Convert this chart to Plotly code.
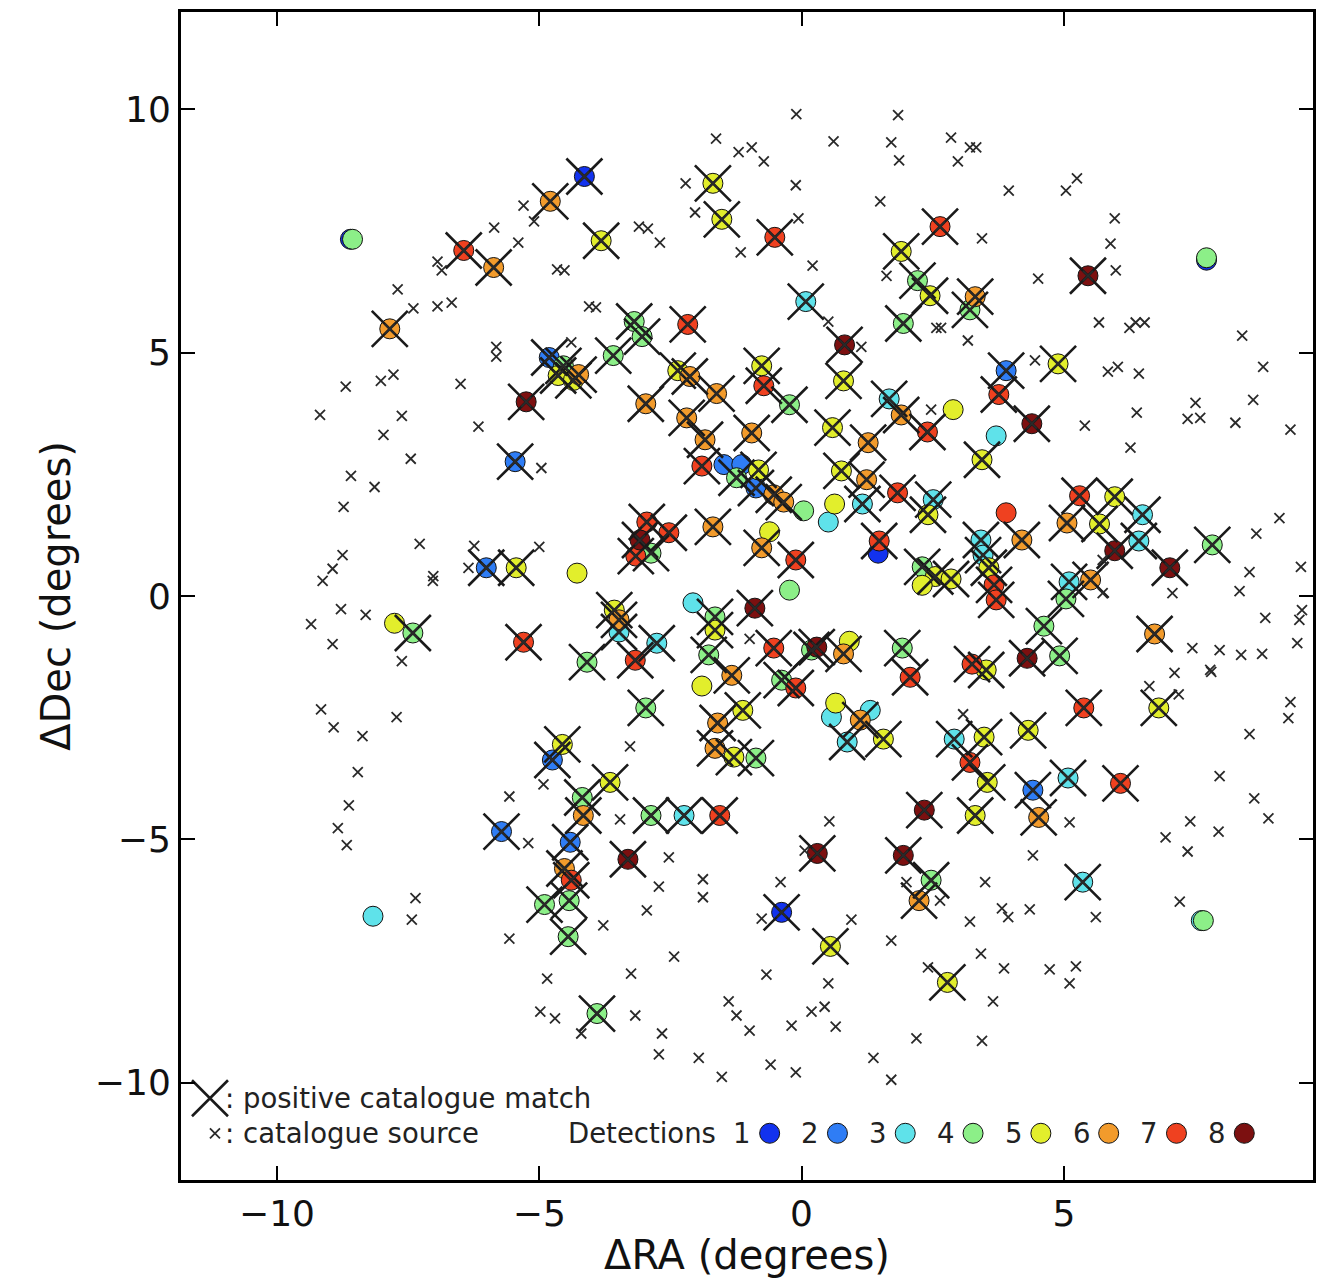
import plotly.graph_objects as go

# ---------------- data ----------------
# detections: x (dRA), y (dDec), number of detections, positive catalogue match flag
det_x = [-8.60, 7.72, 7.62,
         -8.56, -4.14, -4.79, -6.44, -5.87, -7.85, -1.69, -3.82, -1.52, -0.51, 2.64, 1.90, 2.21, 2.45, 3.31, 3.21,
         1.94, 5.46, 7.72, 0.08, 0.82, -2.17, -3.19, -3.04, -3.59, -4.81, -4.54, -4.64, -4.25, -4.35, -5.25,
         -2.97, -2.36, -2.13, -1.62, -0.76, -0.72, 0.80, -0.23, -2.19, -1.84, -0.95, 0.59, 1.27, 1.67, 1.90,
         2.40, 2.89, 3.90, 3.76, 4.89, 4.39, 3.71, 3.44, -5.46, -1.90, -1.48, -1.14, -1.24, -0.82, -0.87, -0.53,
         -0.34, 0.04, 0.63, 0.51, 1.16, 0.76, 1.24, 1.83, 2.51, 2.41, 1.48, 1.46, 3.90, 4.20, 3.42, 3.46, 3.57,
         3.67, 3.71, 5.30, 5.97, 5.06, 5.68, 6.50, 6.43, 5.97, 7.02, 7.83, 5.10, 5.51, 5.04, 4.62, 4.30, 4.92,
         6.73, 3.25, 3.52, 2.30, 2.55, 2.85, 2.30, -6.01, -5.44, -7.76, -7.41, -5.30, -4.28, -2.95, -3.08, -2.53,
         -3.16, -2.87, -1.69, -0.61, -0.76, -0.11, -0.23, -2.07, -1.65, -1.65, -0.89, -3.57, -3.48, -3.48, -2.76,
         -4.09, -3.17, -1.77, -1.33, -1.90, -0.53, 0.19, 0.29, 0.80, 0.91, -0.38, -0.11, 1.92, 2.07, -2.97, -1.12,
         -1.60, -1.65, -1.29, -0.87, 0.65, 0.57, 1.12, 1.31, 0.87, 1.56, 2.91, 3.48, 4.32, 5.38, 6.81, 3.21, 3.54,
         3.31, 4.41, 5.08, 6.08, 4.52, 5.36, 7.66, -4.56, -4.75, -5.72, -3.65, -4.18, -4.16, -4.41, -2.87, -2.24,
         -1.56, -3.31, -4.52, -4.39, -4.43, -4.90, -4.45, -3.90, -8.17, 0.30, 1.94, 2.34, 2.47, 2.24, -0.38, 0.55,
         2.78]
det_y = [7.33, 6.90, -6.67,
         7.33, 8.62, 8.11, 7.10, 6.75, 5.49, 8.48, 7.30, 7.74, 7.37, 7.59, 7.08, 6.48, 6.17, 6.15, 5.88,
         5.60, 6.58, 6.95, 6.05, 5.16, 5.58, 5.64, 5.33, 4.94, 4.90, 4.73, 4.53, 4.55, 4.43, 3.99,
         3.95, 4.63, 4.51, 4.16, 4.73, 4.32, 4.42, 3.93, 3.66, 3.21, 3.35, 3.46, 3.15, 4.05, 3.72,
         3.37, 3.83, 4.63, 4.14, 4.77, 3.54, 3.29, 2.80, 2.76, 2.67, 2.70, 2.70, 2.43, 2.59, 2.22, 2.08,
         1.93, 1.75, 1.89, 1.52, 1.89, 2.57, 2.39, 2.12, 1.98, 1.67, 1.13, 0.88, 1.71, 1.15, 1.15, 0.84, 0.58,
         0.23, -0.08, 2.06, 2.04, 1.50, 1.48, 1.67, 1.13, 0.93, 0.58, 1.05, 0.29, 0.33, -0.06, -0.62, -1.28, -1.23,
         -0.78, -1.40, -1.52, 0.60, 0.40, 0.35, 0.22, 0.58, 0.58, -0.56, -0.76, -0.95, 0.47, 1.52, 1.15, 1.30,
         0.82, 0.88, 1.42, 1.32, 0.99, 0.74, 0.12, -0.14, -0.43, -0.70, -0.25, -0.29, -0.49, -0.74, -0.97,
         -1.36, -1.32, -1.21, -1.63, -1.85, -1.07, -1.11, -1.05, -1.19, -0.93, -1.73, -1.89, -1.07, -1.67, -2.30, -2.35,
         -2.61, -3.13, -3.31, -3.33, -2.20, -2.49, -2.55, -2.35, -3.00, -2.94, -2.94, -2.90, -2.76, -2.30, -2.30, -3.42, -3.83,
         -4.51, -3.99, -3.74, -3.85, -4.55, -5.88, -6.67, -3.05, -3.37, -4.84, -3.83, -4.14, -4.51, -5.06, -4.51, -4.51,
         -4.51, -5.41, -5.60, -5.84, -6.26, -6.34, -7.00, -8.58, -6.58, -5.29, -5.33, -4.40, -5.84, -6.26, -6.50, -7.20,
         -7.94]
det_n = [1, 1, 3,
         4, 1, 6, 7, 6, 6, 5, 5, 5, 7, 7, 5, 4, 5, 6, 4,
         4, 8, 4, 3, 8, 7, 4, 4, 4, 2, 4, 5, 6, 5, 8,
         6, 5, 6, 6, 5, 7, 5, 4, 6, 6, 6, 5, 6, 3, 6,
         7, 5, 2, 7, 5, 8, 3, 5, 2, 7, 2, 2, 4, 5, 2, 6,
         6, 4, 5, 3, 3, 5, 6, 7, 3, 5, 7, 1, 7, 6, 3, 3, 5,
         7, 7, 7, 5, 6, 5, 3, 3, 8, 8, 4, 3, 6, 4, 4, 8, 4,
         6, 7, 5, 4, 5, 5, 5, 2, 5, 5, 4, 7, 5, 7, 8, 7,
         7, 4, 6, 5, 6, 7, 4, 3, 4, 5, 8, 5, 6, 3, 3,
         4, 7, 4, 6, 5, 7, 4, 8, 6, 5, 4, 7, 4, 7, 4, 5,
         6, 6, 5, 4, 5, 3, 6, 3, 3, 5, 3, 5, 5, 7, 5, 7, 5,
         5, 2, 3, 7, 6, 3, 4, 5, 2, 2, 5, 4, 6, 2, 4, 3,
         7, 8, 6, 7, 4, 4, 4, 4, 3, 8, 8, 8, 4, 6, 1, 5,
         5]
det_match = [0, 0, 0,
             0, 1, 1, 1, 1, 1, 1, 1, 1, 1, 1, 1, 1, 1, 1, 1,
             1, 1, 0, 1, 1, 1, 1, 1, 1, 1, 1, 1, 1, 1, 1,
             1, 1, 1, 1, 1, 1, 1, 1, 1, 1, 1, 1, 1, 1, 1,
             1, 0, 1, 1, 1, 1, 0, 1, 1, 1, 0, 0, 1, 1, 1, 1,
             1, 0, 0, 0, 1, 1, 1, 1, 1, 1, 1, 0, 0, 1, 1, 1, 1,
             1, 1, 1, 1, 1, 1, 1, 1, 1, 1, 1, 1, 1, 1, 1, 1, 1,
             1, 1, 1, 1, 1, 1, 0, 1, 1, 0, 1, 1, 0, 1, 1, 1,
             1, 1, 1, 0, 1, 1, 0, 0, 1, 1, 1, 1, 1, 1, 1,
             1, 1, 1, 1, 0, 1, 1, 1, 1, 0, 1, 1, 1, 1, 1, 1,
             1, 1, 1, 1, 0, 0, 1, 0, 1, 1, 1, 1, 1, 1, 1, 1, 1,
             1, 1, 1, 1, 1, 1, 0, 1, 1, 1, 1, 1, 1, 1, 1, 1,
             1, 1, 1, 1, 1, 1, 1, 1, 0, 1, 1, 1, 1, 1, 1, 1,
             1]

# catalogue sources without a positive match
cat_x = [-0.10, 1.84, -1.63, -1.20, -0.95, -0.72, 0.61, 1.71, 1.86, -2.21, -0.11, 1.50, -2.03, -0.06, -3.10,
         -2.93, -2.70, -1.16, 0.21, 1.62, -4.52, -4.05, -3.92, 0.51, 1.14, -4.39, 2.57,
         2.85, 3.21, 3.33, 2.98, 3.95, 5.04, 5.25, 5.97, 5.89, 5.99, 3.44, 4.51, 5.67, 6.25, 6.54, 6.37, 8.40,
         2.66, 3.17, 4.45, 5.84, 6.03, 6.43, 8.80,
         -5.30, -5.10, -5.86, -5.40, -6.94, -6.86, -7.70, -7.40, -6.94, -6.67, -5.82, -5.82, -8.69, -8.02, -7.78,
         -6.50, -4.66,
         -9.18, -7.62, -7.97, -6.16, -7.45, -8.59, -8.14, -8.73, -7.28, -8.75, -8.94, -9.13, -7.02, -7.03, -6.24,
         -5.00, -4.96, -8.78, -8.31, -9.35, -8.94, -7.62, -6.35,
         6.39, 7.51, 8.61, 7.36, 7.60, 8.27, 5.40, 9.32, 6.27, 9.11, 8.67, 9.52, 8.54, 8.35, 7.07, 8.84, 9.54,
         9.49, 7.45, 7.97, 8.38, 8.78, 7.79, 7.11, 9.45, 5.74, 5.74,
         7.81, 6.63, 7.19, 9.32, 9.28, 8.54, 7.97, 8.63, 8.90, 7.41, 7.95, 6.94, 7.36, 4.41, 5.11, 3.50, 3.82,
         3.94, 3.21, 4.35, 5.61, 7.21, 3.42, 3.08, 2.64,
         -9.16, -8.92, -8.37, -7.72, -8.46, -8.63, -8.84, -8.67, -7.36, -7.43, -5.57, -5.21, -5.57, -4.92,
         -3.27, -3.46, -2.53, -2.72, -1.88, -1.88, -2.95, -3.78, -2.43, 0.53, -0.40, 0.95, 1.71, 2.00, 0.06, -0.76,
         -4.85, -4.98, -4.70, -3.25, -3.17, -4.20, -2.66, -2.72, -1.96, -1.52, -1.39, -1.24, -0.99, -0.67, -0.59,
         -0.19, -0.11, 0.19, 0.44, 0.65, 0.51, 1.37, 1.71, 2.19, 2.41, 3.86, 4.73, 5.23, 5.11, 3.65, 3.44,
         -0.99, 2.47]
cat_y = [9.90, 9.88, 9.40, 9.12, 9.22, 8.93, 9.34, 9.32, 8.95, 8.48, 8.44, 8.11, 7.88, 7.76, 7.59,
         7.55, 7.26, 7.06, 6.79, 6.58, 6.69, 5.95, 5.93, 5.64, 5.12, 5.21, 5.51,
         9.42, 9.22, 9.22, 8.93, 8.33, 8.33, 8.58, 7.76, 7.24, 6.69, 7.35, 6.52, 5.62, 5.51, 5.62, 5.62, 5.35,
         5.51, 5.25, 4.84, 4.61, 4.71, 4.57, 4.71,
         8.02, 7.70, 7.57, 7.26, 6.87, 6.69, 6.30, 5.91, 5.95, 6.03, 5.12, 4.92, 4.30, 4.42, 4.55,
         4.36, 6.71,
         3.72, 3.70, 3.31, 3.48, 2.82, 2.47, 2.24, 1.83, 1.07, 0.84, 0.56, 0.31, 0.41, 0.31, 1.03,
         1.01, 2.63, -0.27, -0.39, -0.58, -0.99, -1.34, 0.58,
         3.77, 3.97, 4.03, 3.64, 3.66, 3.56, 3.50, 3.42, 3.05, 1.60, 1.28, 0.60, 0.49, 0.10, 0.06, -0.45, -0.29,
         -0.49, -1.07, -1.11, -1.21, -1.19, -1.52, -1.58, -0.97, 0.06, 0.74,
         -1.56, -1.85, -2.02, -2.18, -2.51, -2.84, -3.70, -4.16, -4.57, -4.63, -4.84, -4.96, -5.25, -5.33, -4.65, -5.88, -6.42,
         -6.60, -6.69, -6.44, -6.60, -6.28, -7.35, -2.43, -6.26,
         -2.33, -2.70, -2.88, -2.49, -3.62, -4.30, -4.77, -5.12, -6.21, -6.65, -4.12, -5.08, -7.04, -3.87,
         -3.09, -4.59, -5.37, -5.97, -5.82, -6.19, -6.46, -6.77, -7.41, -4.63, -5.88, -6.65, -7.08, -5.88, -5.23, -6.63,
         -7.86, -8.54, -8.68, -7.76, -8.62, -8.99, -8.99, -9.42, -9.49, -9.88, -8.33, -8.62, -8.93, -7.78, -9.63,
         -8.83, -9.79, -8.54, -8.44, -8.85, -7.96, -9.49, -9.94, -9.09, -7.63, -7.65, -7.67, -7.61, -7.96, -8.33, -9.14,
         -0.88, 3.83]

levels = [1, 2, 3, 4, 5, 6, 7, 8]
level_colors = ['#1232ee', '#2f7df5', '#5fe2ea', '#8cef88', '#e2ee2c', '#f29b2c', '#ef4120', '#7c1010']

x_range = [-11.83, 9.75]
y_range = [-12.0, 12.0]
x_ticks = [-10, -5, 0, 5]
y_ticks = [-10, -5, 0, 5, 10]
tick_text_x = ['\u221210', '\u22125', '0', '5']
tick_text_y = ['\u221210', '\u22125', '0', '5', '10']

FONT = 'DejaVu Sans'

fig = go.Figure()

# detection circles, lowest count first so higher counts sit on top
for lv, col in zip(levels, level_colors):
    xs = [x for x, n in zip(det_x, det_n) if n == lv]
    ys = [y for y, n in zip(det_y, det_n) if n == lv]
    fig.add_trace(go.Scatter(
        x=xs, y=ys, mode='markers', hoverinfo='skip', showlegend=False,
        marker=dict(symbol='circle', size=20, color=col, line=dict(color='#111111', width=1))))

# positive catalogue matches: big X
mx = [x for x, m in zip(det_x, det_match) if m]
my = [y for y, m in zip(det_y, det_match) if m]
fig.add_trace(go.Scatter(
    x=mx, y=my, mode='markers', hoverinfo='skip', showlegend=False,
    marker=dict(symbol='x-thin-open', size=36, color='#1a1a1a', line=dict(color='#1a1a1a', width=2.6))))

# catalogue sources: small x (includes the matched ones)
fig.add_trace(go.Scatter(
    x=cat_x + mx, y=cat_y + my, mode='markers', hoverinfo='skip', showlegend=False,
    marker=dict(symbol='x-thin-open', size=10, color='#2a2a2a', line=dict(color='#2a2a2a', width=1.8))))

# ---------------- legend glyphs (axes-fraction overlay) ----------------
leg_circle_x0 = 0.520
leg_step = 0.0599
leg_cx = [leg_circle_x0 + i * leg_step for i in range(len(levels))]
fig.add_trace(go.Scatter(
    x=leg_cx, y=[0.040] * len(levels), xaxis='x2', yaxis='y2', mode='markers',
    hoverinfo='skip', showlegend=False,
    marker=dict(symbol='circle', size=20, color=level_colors, line=dict(color='#111111', width=1))))
fig.add_trace(go.Scatter(
    x=[0.0256], y=[0.070], xaxis='x2', yaxis='y2', mode='markers', hoverinfo='skip', showlegend=False,
    marker=dict(symbol='x-thin-open', size=36, color='#1a1a1a', line=dict(color='#1a1a1a', width=2.6))))
fig.add_trace(go.Scatter(
    x=[0.030], y=[0.040], xaxis='x2', yaxis='y2', mode='markers', hoverinfo='skip', showlegend=False,
    marker=dict(symbol='x-thin-open', size=10, color='#2a2a2a', line=dict(color='#2a2a2a', width=1.8))))

annos = [
    dict(x=0.037, y=0.070, text=': positive catalogue match', xanchor='left'),
    dict(x=0.037, y=0.040, text=': catalogue source', xanchor='left'),
    dict(x=0.474, y=0.040, text='Detections', xanchor='right'),
]
for lv, cx in zip(levels, leg_cx):
    annos.append(dict(x=cx - 0.024, y=0.040, text=str(lv), xanchor='center'))
for a in annos:
    fig.add_annotation(xref='paper', yref='paper', yanchor='middle', showarrow=False,
                       font=dict(family=FONT, size=27.5, color='#222222'), **a)

axis_common = dict(showgrid=False, zeroline=False, showline=True, linecolor='#000000', linewidth=3,
                   mirror='allticks', ticks='inside', ticklen=14, tickwidth=1.5, tickcolor='#000000',
                   tickfont=dict(family=FONT, size=36, color='#111111'))

fig.update_layout(
    width=1323, height=1278,
    margin=dict(l=181, r=7, t=12, b=98),
    paper_bgcolor='white', plot_bgcolor='white',
    xaxis=dict(range=x_range, tickvals=x_ticks, ticktext=tick_text_x,
               title=dict(text='\u0394RA (degrees)', font=dict(family=FONT, size=40, color='#111111'), standoff=4),
               **axis_common),
    yaxis=dict(range=y_range, tickvals=y_ticks, ticktext=tick_text_y,
               title=dict(text='\u0394Dec (degrees)', font=dict(family=FONT, size=40, color='#111111'), standoff=12),
               **axis_common),
    xaxis2=dict(overlaying='x', range=[0, 1], visible=False, anchor='y2'),
    yaxis2=dict(overlaying='y', range=[0, 1], visible=False, anchor='x2'),
)

fig.write_html('out.html')
